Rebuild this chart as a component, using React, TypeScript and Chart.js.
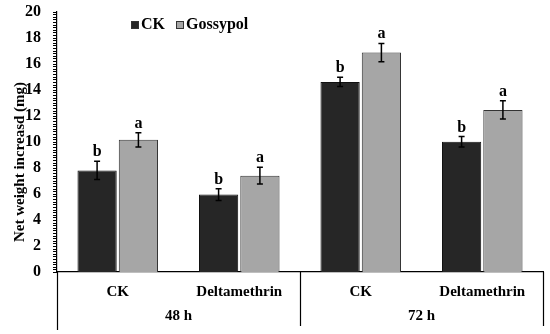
import React, { useEffect, useRef } from "react";
import { Chart, registerables } from "chart.js";

Chart.register(...registerables);

const categories = ["CK", "Deltamethrin", "CK", "Deltamethrin"];
const groups = ["48 h", "72 h"];
const seriesNames = ["CK", "Gossypol"];
const ckValues = [7.8, 5.95, 14.6, 10.0];
const ckErrors = [0.7, 0.45, 0.35, 0.4];
const gossypolValues = [10.15, 7.4, 16.85, 12.45];
const gossypolErrors = [0.55, 0.65, 0.7, 0.7];
const ckLetters = ["b", "b", "b", "b"];
const gossypolLetters = ["a", "a", "a", "a"];
const yTicks = [0, 2, 4, 6, 8, 10, 12, 14, 16, 18, 20];
const yTitle = "Net weight increasd (mg)";

const FONT = "'Liberation Serif', 'Times New Roman', serif";
const SHIFT = 6;

const annotPlugin = {
  id: "annot",
  afterDatasetsDraw(chart: any) {
    const ctx = chart.ctx;
    const errs = [ckErrors, gossypolErrors];
    const letters = [ckLetters, gossypolLetters];
    const y = chart.scales.y;
    const area = chart.chartArea;
    ctx.save();
    chart.data.datasets.forEach((ds: any, di: number) => {
      const meta = chart.getDatasetMeta(di);
      meta.data.forEach((bar: any, i: number) => {
        const v = ds.data[i];
        const e = errs[di][i];
        const top = y.getPixelForValue(v + e);
        const bot = y.getPixelForValue(v - e);
        ctx.strokeStyle = "#000";
        ctx.lineWidth = 1.5;
        ctx.beginPath();
        ctx.moveTo(bar.x, top);
        ctx.lineTo(bar.x, bot);
        ctx.moveTo(bar.x - 3, top);
        ctx.lineTo(bar.x + 3, top);
        ctx.moveTo(bar.x - 3, bot);
        ctx.lineTo(bar.x + 3, bot);
        ctx.stroke();
        ctx.fillStyle = "#000";
        ctx.font = "bold 16px " + FONT;
        ctx.textAlign = "center";
        ctx.textBaseline = "alphabetic";
        ctx.fillText(letters[di][i], bar.x, top - 5);
      });
    });
    ctx.strokeStyle = "#000";
    ctx.lineWidth = 1;
    ctx.beginPath();
    for (let k = 0; k <= 100; k++) {
      const py = Math.round(y.getPixelForValue(k * 0.2)) + 0.5;
      ctx.moveTo(area.left - 4, py);
      ctx.lineTo(area.left, py);
    }
    ctx.stroke();
    const n = categories.length;
    const catW = (area.right - area.left) / n;
    const sepBottom = area.bottom + 54;
    ctx.beginPath();
    ctx.lineWidth = 1.2;
    const gSize = n / groups.length;
    for (let g = 0; g <= groups.length; g++) {
      const px = Math.round(area.left + g * gSize * catW) + 0.5;
      ctx.moveTo(px, area.bottom);
      ctx.lineTo(px, g === 0 ? sepBottom + 4 : sepBottom);
    }
    ctx.stroke();
    ctx.fillStyle = "#000";
    ctx.font = "bold 15px " + FONT;
    ctx.textAlign = "center";
    ctx.textBaseline = "middle";
    groups.forEach((gl, g) => {
      const cx = area.left + (g + 0.5) * gSize * catW;
      ctx.fillText(gl, cx, area.bottom + 44);
    });
    ctx.save();
    ctx.translate(20, 162 + SHIFT);
    ctx.rotate(-Math.PI / 2);
    ctx.font = "bold 15px " + FONT;
    ctx.textAlign = "center";
    ctx.textBaseline = "middle";
    ctx.fillText(yTitle, 0, 0);
    ctx.restore();
    const colors = chart.data.datasets.map((d: any) => d.backgroundColor);
    ctx.font = "bold 16px " + FONT;
    ctx.textAlign = "left";
    ctx.textBaseline = "middle";
    let lx = 131;
    const ly = 25 + SHIFT;
    seriesNames.forEach((name, i) => {
      ctx.fillStyle = colors[i];
      ctx.fillRect(lx, ly - 4, 8, 8);
      ctx.strokeStyle = "#333";
      ctx.lineWidth = 1;
      ctx.strokeRect(lx + 0.5, ly - 3.5, 7, 7);
      ctx.fillStyle = "#000";
      ctx.fillText(name, lx + 10, ly);
      lx += 10 + ctx.measureText(name).width + 11;
    });
    ctx.restore();
  },
};

export default function App() {
  const ref = useRef<HTMLCanvasElement>(null);
  useEffect(() => {
    const chart = new Chart(ref.current!, {
      type: "bar",
      data: {
        labels: categories,
        datasets: [
          {
            label: seriesNames[0],
            data: ckValues,
            backgroundColor: "#262626",
            borderColor: "#111",
            borderWidth: 1,
            categoryPercentage: 0.68,
            barPercentage: 0.95,
          },
          {
            label: seriesNames[1],
            data: gossypolValues,
            backgroundColor: "#a6a6a6",
            borderColor: "#333",
            borderWidth: 1,
            categoryPercentage: 0.68,
            barPercentage: 0.95,
          },
        ],
      },
      options: {
        responsive: false,
        animation: false,
        layout: { padding: { top: 3, right: 7, left: 0, bottom: 0 } },
        plugins: { legend: { display: false }, tooltip: { enabled: false } },
        scales: {
          x: {
            grid: { display: false },
            border: { color: "#000", width: 1.2 },
            ticks: {
              color: "#000",
              font: { family: FONT, size: 15, weight: "bold" },
              padding: 3,
              maxRotation: 0,
              autoSkip: false,
            },
            afterFit: (s: any) => {
              s.height = 62;
            },
          },
          y: {
            min: 0,
            max: 20,
            afterBuildTicks: (s: any) => {
              s.ticks = yTicks.map((v) => ({ value: v }));
            },
            grid: { display: false },
            border: { color: "#000", width: 1.2 },
            ticks: {
              color: "#000",
              font: { family: FONT, size: 16, weight: "bold" },
              padding: 8,
            },
            afterFit: (s: any) => {
              s.width = 57;
            },
          },
        },
      },
      plugins: [annotPlugin],
    });
    return () => chart.destroy();
  }, []);
  return (
    <div style={{ position: "absolute", left: 0, top: -SHIFT, width: 550, height: 334 + SHIFT }}>
      <canvas ref={ref} width={550} height={334 + SHIFT} />
    </div>
  );
}
